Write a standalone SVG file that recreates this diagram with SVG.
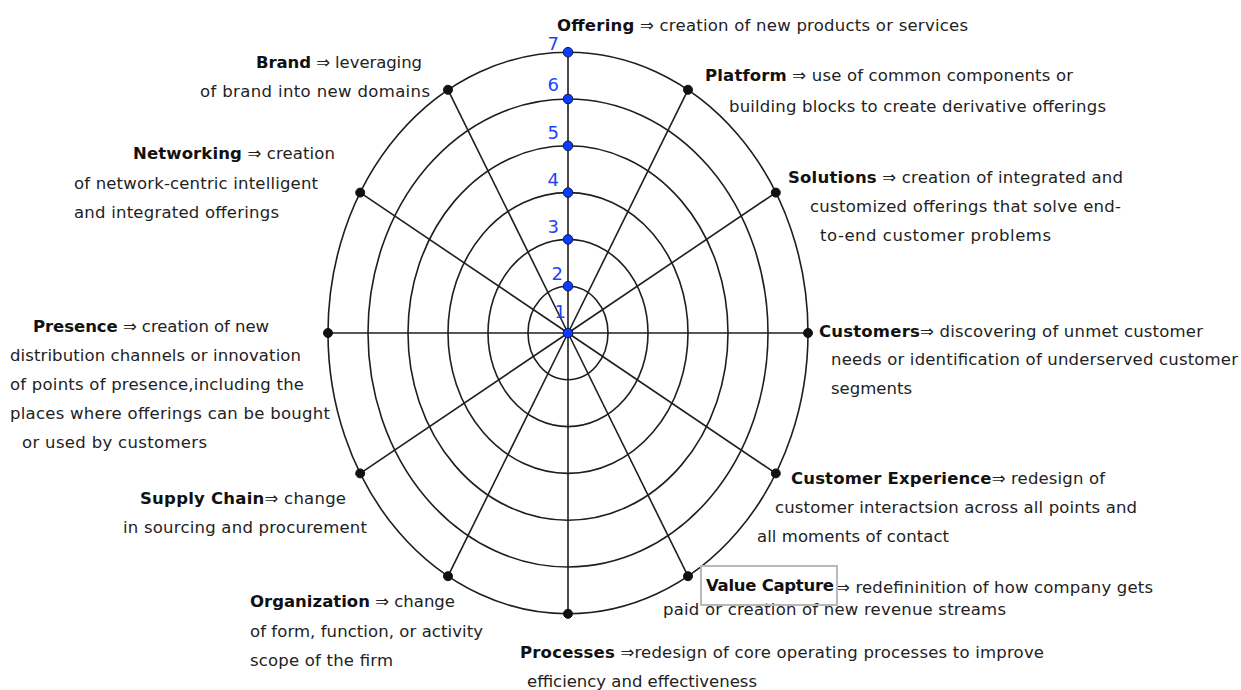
<svg xmlns="http://www.w3.org/2000/svg" width="1241" height="690" viewBox="0 0 1241 690">
  <style>
    .ring { fill: none; stroke: #1e1e1e; stroke-width: 1.6; }
    .spoke { stroke: #1e1e1e; stroke-width: 1.6; }
    .end { fill: #111; stroke: #111; stroke-width: 1; }
    .tick { fill: #0b3cff; stroke: #0a1a55; stroke-width: 1; }
    .num { font-family: "DejaVu Sans", Verdana, sans-serif; font-size: 18px; fill: #1d43ff; text-anchor: end; }
    .lbl { font-family: "DejaVu Sans", Verdana, sans-serif; font-size: 16.5px; fill: #222; }
    .lbl .k { font-weight: bold; fill: #111; }
    .hl { fill: none; stroke: #b8b8b8; stroke-width: 2; }
  </style>

  <rect width="1241" height="690" fill="#fff"/>

  <!-- concentric rating rings, levels 2..7 -->
  <g id="rings">
    <ellipse class="ring" cx="568" cy="333" rx="40" ry="46.8"/>
    <ellipse class="ring" cx="568" cy="333" rx="80" ry="93.6"/>
    <ellipse class="ring" cx="568" cy="333" rx="120" ry="140.4"/>
    <ellipse class="ring" cx="568" cy="333" rx="160" ry="187.2"/>
    <ellipse class="ring" cx="568" cy="333" rx="200" ry="234"/>
    <ellipse class="ring" cx="568" cy="333" rx="240" ry="280.8"/>
  </g>

  <!-- twelve dimension axes -->
  <g id="connectors">
    <line class="spoke" x1="568" y1="333" x2="568" y2="52.2"/>
    <line class="spoke" x1="568" y1="333" x2="688" y2="89.8"/>
    <line class="spoke" x1="568" y1="333" x2="775.8" y2="192.6"/>
    <line class="spoke" x1="568" y1="333" x2="808" y2="333"/>
    <line class="spoke" x1="568" y1="333" x2="775.8" y2="473.4"/>
    <line class="spoke" x1="568" y1="333" x2="688" y2="576.2"/>
    <line class="spoke" x1="568" y1="333" x2="568" y2="613.8"/>
    <line class="spoke" x1="568" y1="333" x2="448" y2="576.2"/>
    <line class="spoke" x1="568" y1="333" x2="360.2" y2="473.4"/>
    <line class="spoke" x1="568" y1="333" x2="328" y2="333"/>
    <line class="spoke" x1="568" y1="333" x2="360.2" y2="192.6"/>
    <line class="spoke" x1="568" y1="333" x2="448" y2="89.8"/>
  </g>

  <!-- axis end points -->
  <g id="endpoints">
    <circle class="end" cx="688" cy="89.8" r="4.5"/>
    <circle class="end" cx="775.8" cy="192.6" r="4.5"/>
    <circle class="end" cx="808" cy="333" r="4.5"/>
    <circle class="end" cx="775.8" cy="473.4" r="4.5"/>
    <circle class="end" cx="688" cy="576.2" r="4.5"/>
    <circle class="end" cx="568" cy="613.8" r="4.5"/>
    <circle class="end" cx="448" cy="576.2" r="4.5"/>
    <circle class="end" cx="360.2" cy="473.4" r="4.5"/>
    <circle class="end" cx="328" cy="333" r="4.5"/>
    <circle class="end" cx="360.2" cy="192.6" r="4.5"/>
    <circle class="end" cx="448" cy="89.8" r="4.5"/>
  </g>

  <!-- scale 1..7 on the vertical axis -->
  <g id="scale">
    <circle class="tick" cx="568" cy="333" r="4.8"/>
    <circle class="tick" cx="568" cy="286.2" r="4.8"/>
    <circle class="tick" cx="568" cy="239.4" r="4.8"/>
    <circle class="tick" cx="568" cy="192.6" r="4.8"/>
    <circle class="tick" cx="568" cy="145.8" r="4.8"/>
    <circle class="tick" cx="568" cy="99" r="4.8"/>
    <circle class="tick" cx="568" cy="52.2" r="4.8"/>
    <text class="num" x="566" y="318">1</text>
    <text class="num" x="563" y="280">2</text>
    <text class="num" x="559" y="233">3</text>
    <text class="num" x="559" y="186">4</text>
    <text class="num" x="559" y="139">5</text>
    <text class="num" x="559" y="91">6</text>
    <text class="num" x="559" y="50">7</text>
  </g>

  <g id="offering">
    <text class="lbl" x="557" y="31" textLength="411"><tspan class="k">Offering</tspan> ⇒ creation of new products or services</text>
  </g>

  <g id="platform">
    <text class="lbl" x="705" y="81" textLength="368"><tspan class="k">Platform</tspan> ⇒ use of common components or</text>
    <text class="lbl" x="729" y="112" textLength="377">building blocks to create derivative offerings</text>
  </g>

  <g id="solutions">
    <text class="lbl" x="788" y="183" textLength="335"><tspan class="k">Solutions</tspan> ⇒ creation of integrated and</text>
    <text class="lbl" x="810" y="212" textLength="311">customized offerings that solve end-</text>
    <text class="lbl" x="820" y="241" textLength="231">to-end customer problems</text>
  </g>

  <g id="customers">
    <text class="lbl" x="819" y="337" textLength="384"><tspan class="k">Customers</tspan>⇒ discovering of unmet customer</text>
    <text class="lbl" x="831" y="365" textLength="407">needs or identification of underserved customer</text>
    <text class="lbl" x="831" y="394" textLength="81">segments</text>
  </g>

  <g id="customer-experience">
    <text class="lbl" x="791" y="484" textLength="314"><tspan class="k">Customer Experience</tspan>⇒ redesign of</text>
    <text class="lbl" x="775" y="513" textLength="362">customer interactsion across all points and</text>
    <text class="lbl" x="757" y="542" textLength="192">all moments of contact</text>
  </g>

  <g id="value-capture">
    <text class="lbl" x="706" y="591" textLength="128"><tspan class="k">Value Capture</tspan></text>
    <text class="lbl" x="836" y="593" textLength="317">⇒ redefininition of how company gets</text>
    <text class="lbl" x="663" y="615" textLength="343">paid or creation of new revenue streams</text>
    <rect class="hl" x="701" y="566" width="136" height="39"/>
  </g>

  <g id="processes">
    <text class="lbl" x="520" y="658" textLength="524"><tspan class="k">Processes</tspan> ⇒redesign of core operating processes to improve</text>
    <text class="lbl" x="527" y="687" textLength="230">efficiency and effectiveness</text>
  </g>

  <g id="organization">
    <text class="lbl" x="250" y="607" textLength="205"><tspan class="k">Organization</tspan> ⇒ change</text>
    <text class="lbl" x="250" y="637" textLength="233">of form, function, or activity</text>
    <text class="lbl" x="250" y="666" textLength="143">scope of the firm</text>
  </g>

  <g id="supply-chain">
    <text class="lbl" x="140" y="504" textLength="206"><tspan class="k">Supply Chain</tspan>⇒ change</text>
    <text class="lbl" x="123" y="533" textLength="244">in sourcing and procurement</text>
  </g>

  <g id="presence">
    <text class="lbl" x="33" y="332" textLength="236"><tspan class="k">Presence</tspan> ⇒ creation of new</text>
    <text class="lbl" x="10" y="361" textLength="291">distribution channels or innovation</text>
    <text class="lbl" x="10" y="390" textLength="294">of points of presence,including the</text>
    <text class="lbl" x="10" y="419" textLength="320">places where offerings can be bought</text>
    <text class="lbl" x="22" y="448" textLength="185">or used by customers</text>
  </g>

  <g id="networking">
    <text class="lbl" x="133" y="159" textLength="202"><tspan class="k">Networking</tspan> ⇒ creation</text>
    <text class="lbl" x="74" y="189" textLength="244">of network-centric intelligent</text>
    <text class="lbl" x="74" y="218" textLength="205">and integrated offerings</text>
  </g>

  <g id="brand">
    <text class="lbl" x="256" y="68" textLength="166"><tspan class="k">Brand</tspan> ⇒ leveraging</text>
    <text class="lbl" x="200" y="97" textLength="230">of brand into new domains</text>
  </g>
</svg>
